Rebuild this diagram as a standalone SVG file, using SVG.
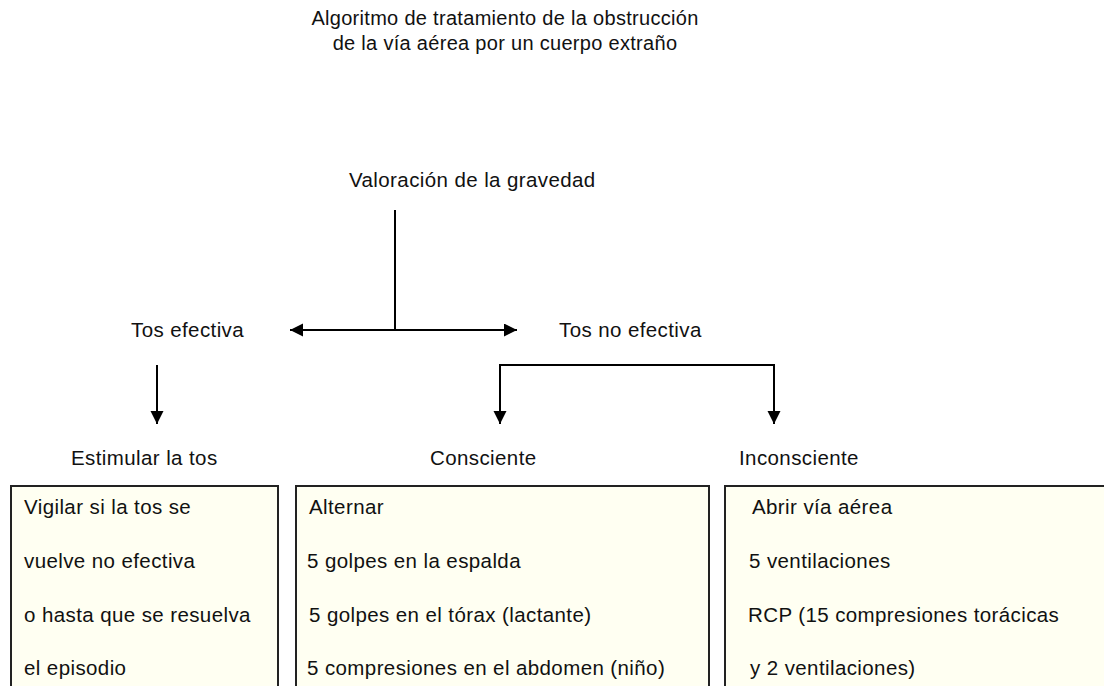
<svg xmlns="http://www.w3.org/2000/svg" width="1104" height="686" viewBox="0 0 1104 686">
<defs>
<style>
text{font-family:"Liberation Sans",Arial,Helvetica,sans-serif;font-size:20.5px;letter-spacing:0.4px;fill:#111}
.title{font-size:20px;letter-spacing:0.3px}
.box{fill:#fffff2;stroke:#222;stroke-width:2}
.ln{fill:none;stroke:#000;stroke-width:2}
</style>
<marker id="ah" markerUnits="userSpaceOnUse" markerWidth="14" markerHeight="14" refX="13" refY="6.5" orient="auto">
<path d="M0,0 L13,6.5 L0,13 Z" fill="#000"/>
</marker>
</defs>
<rect width="1104" height="686" fill="#fff"/>
<g id="title">
<text class="title" x="505" y="25" text-anchor="middle">Algoritmo de tratamiento de la obstrucción</text>
<text class="title" x="505" y="50" text-anchor="middle">de la vía aérea por un cuerpo extraño</text>
</g>
<g id="valoracion"><text x="349" y="187">Valoración de la gravedad</text></g>
<g id="tos-efectiva"><text x="131" y="337">Tos efectiva</text></g>
<g id="tos-no-efectiva"><text x="559" y="337">Tos no efectiva</text></g>
<g id="estimular"><text x="71" y="465">Estimular la tos</text></g>
<g id="consciente"><text x="430" y="465">Consciente</text></g>
<g id="inconsciente"><text x="739" y="465">Inconsciente</text></g>
<g id="box-vigilar">
<rect class="box" x="11" y="486" width="267" height="220"/>
<text x="24" y="514">Vigilar si la tos se</text>
<text x="24" y="568">vuelve no efectiva</text>
<text x="24" y="622">o hasta que se resuelva</text>
<text x="24" y="675">el episodio</text>
</g>
<g id="box-consciente">
<rect class="box" x="296" y="486" width="413" height="220"/>
<text x="309" y="514">Alternar</text>
<text x="307" y="568">5 golpes en la espalda</text>
<text x="309" y="622">5 golpes en el tórax (lactante)</text>
<text x="307" y="675">5 compresiones en el abdomen (niño)</text>
</g>
<g id="box-inconsciente">
<rect class="box" x="725" y="486" width="400" height="220"/>
<text x="752" y="514">Abrir vía aérea</text>
<text x="749" y="568">5 ventilaciones</text>
<text x="748" y="622">RCP (15 compresiones torácicas</text>
<text x="750" y="675">y 2 ventilaciones)</text>
</g>
<g id="connectors">
<line class="ln" x1="395" y1="210" x2="395" y2="330"/>
<line class="ln" x1="395" y1="330" x2="290" y2="330" marker-end="url(#ah)"/>
<line class="ln" x1="395" y1="330" x2="517" y2="330" marker-end="url(#ah)"/>
<line class="ln" x1="157" y1="365" x2="157" y2="424" marker-end="url(#ah)"/>
<path class="ln" d="M500,424 L500,365 L774,365 L774,424" marker-end="url(#ah)"/>
<line class="ln" x1="500" y1="366" x2="500" y2="424" marker-end="url(#ah)"/>
</g>
</svg>
